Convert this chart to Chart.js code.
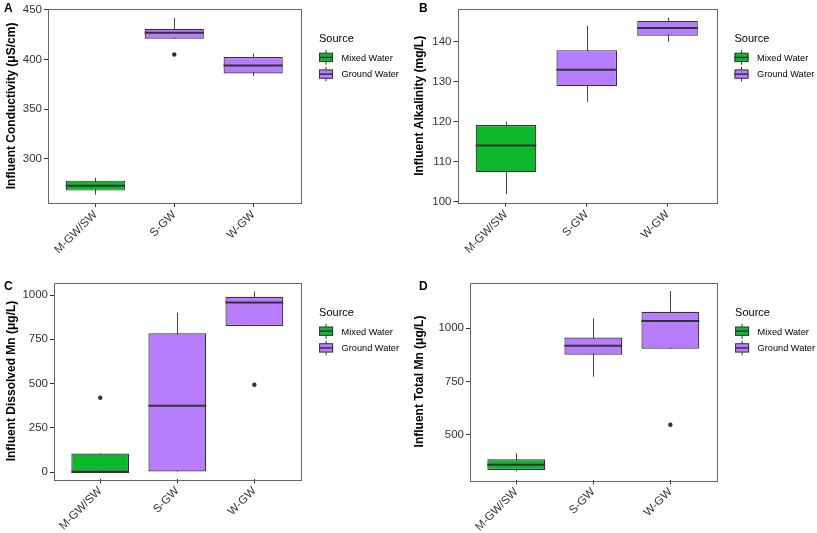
<!doctype html>
<html lang="en">
<head>
<meta charset="utf-8">
<title>Influent water quality by source</title>
<script src="https://cdn.jsdelivr.net/npm/chart.js@4.4.1/dist/chart.umd.min.js"></script>
<style>
  html,body{margin:0;padding:0;background:#fff}
  .panel{position:absolute}
  .tag{position:absolute;font:bold 12px "Liberation Sans", Arial, sans-serif;color:#000}
</style>
</head>
<body>
<div class="panel" style="left:0;top:0"><canvas id="cA" width="408" height="266"></canvas></div>
<div class="panel" style="left:408px;top:0"><canvas id="cB" width="409" height="266"></canvas></div>
<div class="panel" style="left:0;top:266px"><canvas id="cC" width="408" height="267"></canvas></div>
<div class="panel" style="left:408px;top:266px"><canvas id="cD" width="409" height="267"></canvas></div>
<div class="tag" style="left:4px;top:1px">A</div>
<div class="tag" style="left:419px;top:1px">B</div>
<div class="tag" style="left:4px;top:279px">C</div>
<div class="tag" style="left:419px;top:279px">D</div>
<script>
// categories + source of each site
const categories = ['M-GW/SW', 'S-GW', 'W-GW'];
const sources = ['Mixed Water', 'Ground Water', 'Ground Water'];
const legendItems = ['Mixed Water', 'Ground Water'];

// A: conductivity (uS/cm)
const condQ1  = [268, 421, 386];
const condMed = [273, 427, 394];
const condQ3  = [278, 431, 402.5];
const condLo  = [264, 421, 383.5];
const condHi  = [281, 442, 406];
const condOut = [[], [405], []];
const condTicks = [300, 350, 400, 450];

// B: alkalinity (mg/L)
const alkQ1  = [107.4, 128.9, 141.5];
const alkMed = [114.1, 133, 143.4];
const alkQ3  = [119.2, 137.9, 145.2];
const alkLo  = [102, 125, 140];
const alkHi  = [120, 144, 146];
const alkOut = [[], [], []];
const alkTicks = [100, 110, 120, 130, 140];

// C: dissolved Mn (ug/L)
const dmnQ1  = [0, 3, 826];
const dmnMed = [0, 375, 958];
const dmnQ3  = [105, 784, 990];
const dmnLo  = [0, 3, 826];
const dmnHi  = [105, 900, 1021];
const dmnOut = [[420], [], [493]];
const dmnTicks = [0, 250, 500, 750, 1000];

// D: total Mn (ug/L)
const tmnQ1  = [336, 875, 903];
const tmnMed = [361, 917, 1033];
const tmnQ3  = [386, 956, 1076];
const tmnLo  = [330, 772, 903];
const tmnHi  = [414, 1045, 1173];
const tmnOut = [[], [], [548]];
const tmnTicks = [500, 750, 1000];

const fills = { 'Mixed Water': '#0db82c', 'Ground Water': '#b87dff' };
const FONT = '"Liberation Sans", Arial, sans-serif';

// whiskers under the boxes, medians on top
const boxParts = {
  id: 'boxParts',
  beforeDatasetsDraw(chart, args, o) {
    const { ctx, scales: { x, y } } = chart;
    ctx.save();
    ctx.strokeStyle = '#444'; ctx.lineWidth = 1;
    o.lo.forEach((v, i) => {
      const px = Math.round(x.getPixelForValue(i)) + 0.5;
      ctx.beginPath();
      ctx.moveTo(px, y.getPixelForValue(v));
      ctx.lineTo(px, y.getPixelForValue(o.hi[i]));
      ctx.stroke();
    });
    ctx.restore();
  },
  afterDatasetsDraw(chart, args, o) {
    const { ctx, scales: { x, y } } = chart;
    const bars = chart.getDatasetMeta(0).data;
    ctx.save();
    ctx.strokeStyle = '#333'; ctx.lineWidth = 2;
    o.med.forEach((v, i) => {
      const w = bars[i].width, px = x.getPixelForValue(i), py = y.getPixelForValue(v);
      ctx.beginPath(); ctx.moveTo(px - w / 2, py); ctx.lineTo(px + w / 2, py); ctx.stroke();
    });
    ctx.restore();
  },
  afterDraw(chart) {
    const { ctx, chartArea: a } = chart;
    ctx.save();
    ctx.strokeStyle = '#666'; ctx.lineWidth = 1;
    ctx.strokeRect(Math.round(a.left) + 0.5, Math.round(a.top) + 0.5, Math.round(a.right - a.left), Math.round(a.bottom - a.top));
    // legend
    const lx = a.right + 18.5;
    ctx.fillStyle = '#000'; ctx.font = '11px ' + FONT; ctx.textBaseline = 'alphabetic';
    ctx.fillText('Source', lx, a.top + 33.3);
    ctx.font = '9.2px ' + FONT;
    legendItems.forEach((s, k) => {
      const cy = a.top + 48.5 + k * 16.7, kx = lx;
      ctx.strokeStyle = '#333'; ctx.lineWidth = 1;
      ctx.beginPath(); ctx.moveTo(kx + 7, cy - 7.3); ctx.lineTo(kx + 7, cy + 7.3); ctx.stroke();
      ctx.fillStyle = fills[s];
      ctx.fillRect(kx, cy - 4.2, 14, 8.4);
      ctx.strokeRect(kx + 0.5, cy - 4.2, 13, 8.4);
      ctx.lineWidth = 1.5;
      ctx.beginPath(); ctx.moveTo(kx, cy); ctx.lineTo(kx + 14, cy); ctx.stroke();
      ctx.fillStyle = '#000';
      ctx.fillText(s, lx + 22.5, cy + 3.3);
    });
    ctx.restore();
  }
};

function panel(id, p) {
  const c = document.getElementById(id);
  const W = c.width, H = c.height;
  new Chart(c, {
    type: 'bar',
    data: {
      datasets: [{
        data: categories.map((_, i) => ({ x: i, y: [p.q1[i], p.q3[i]] })),
        backgroundColor: sources.map(s => fills[s]),
        borderColor: '#333', borderWidth: 1.2, borderSkipped: false,
        barPercentage: 0.75, categoryPercentage: 1
      }, {
        type: 'scatter',
        data: p.out.flatMap((arr, i) => arr.map(v => ({ x: i, y: v }))),
        pointRadius: 2.2, pointBackgroundColor: '#333', pointBorderWidth: 0
      }]
    },
    options: {
      responsive: false, animation: false, events: [],
      layout: { padding: { left: 0, top: p.top, right: W - p.right, bottom: 0 } },
      plugins: { legend: { display: false }, tooltip: { enabled: false },
        boxParts: { lo: p.lo, hi: p.hi, med: p.med } },
      scales: {
        x: {
          type: 'linear', min: -0.6, max: 2.6, offset: false,
          afterBuildTicks: s => { s.ticks = categories.map((_, i) => ({ value: i })); },
          afterFit: s => { s.height = H - p.bottom; },
          grid: { offset: false, drawOnChartArea: false, tickLength: 4, color: '#333' },
          border: { display: false },
          ticks: { minRotation: 45, maxRotation: 45, padding: 1, color: '#333',
            font: { family: FONT, size: 11.5 }, callback: v => categories[v] }
        },
        y: {
          min: p.yMin, max: p.yMax,
          afterBuildTicks: s => { s.ticks = p.ticks.map(v => ({ value: v })); },
          afterFit: s => { s.width = p.left; },
          grid: { drawOnChartArea: false, tickLength: 4, color: '#333' },
          border: { display: false },
          ticks: { padding: 2, color: '#333', font: { family: FONT, size: 11.5 }, callback: v => String(v) },
          title: { display: true, text: p.title, color: '#000', padding: { top: 4, bottom: 4 },
            font: { family: FONT, size: 12, weight: 'bold' } }
        }
      }
    },
    plugins: [boxParts]
  });
}

panel('cA', { q1: condQ1, med: condMed, q3: condQ3, lo: condLo, hi: condHi, out: condOut, ticks: condTicks,
  yMin: 255.5, yMax: 451, title: 'Influent Conductivity (\u03bcS/cm)', left: 48, top: 5, right: 300.5, bottom: 203 });
panel('cB', { q1: alkQ1, med: alkMed, q3: alkQ3, lo: alkLo, hi: alkHi, out: alkOut, ticks: alkTicks,
  yMin: 99.8, yMax: 148.2, title: 'Influent Alkalinity (mg/L)', left: 49.5, top: 5, right: 308, bottom: 202.7 });
panel('cC', { q1: dmnQ1, med: dmnMed, q3: dmnQ3, lo: dmnLo, hi: dmnHi, out: dmnOut, ticks: dmnTicks,
  yMin: -41, yMax: 1070, title: 'Influent Dissolved Mn (\u03bcg/L)', left: 54, top: 16.7, right: 300.6, bottom: 213.3 });
panel('cD', { q1: tmnQ1, med: tmnMed, q3: tmnQ3, lo: tmnLo, hi: tmnHi, out: tmnOut, ticks: tmnTicks,
  yMin: 288, yMax: 1212, title: 'Influent Total Mn (\u03bcg/L)', left: 62, top: 16.7, right: 308.6, bottom: 214.3 });
</script>
</body>
</html>
